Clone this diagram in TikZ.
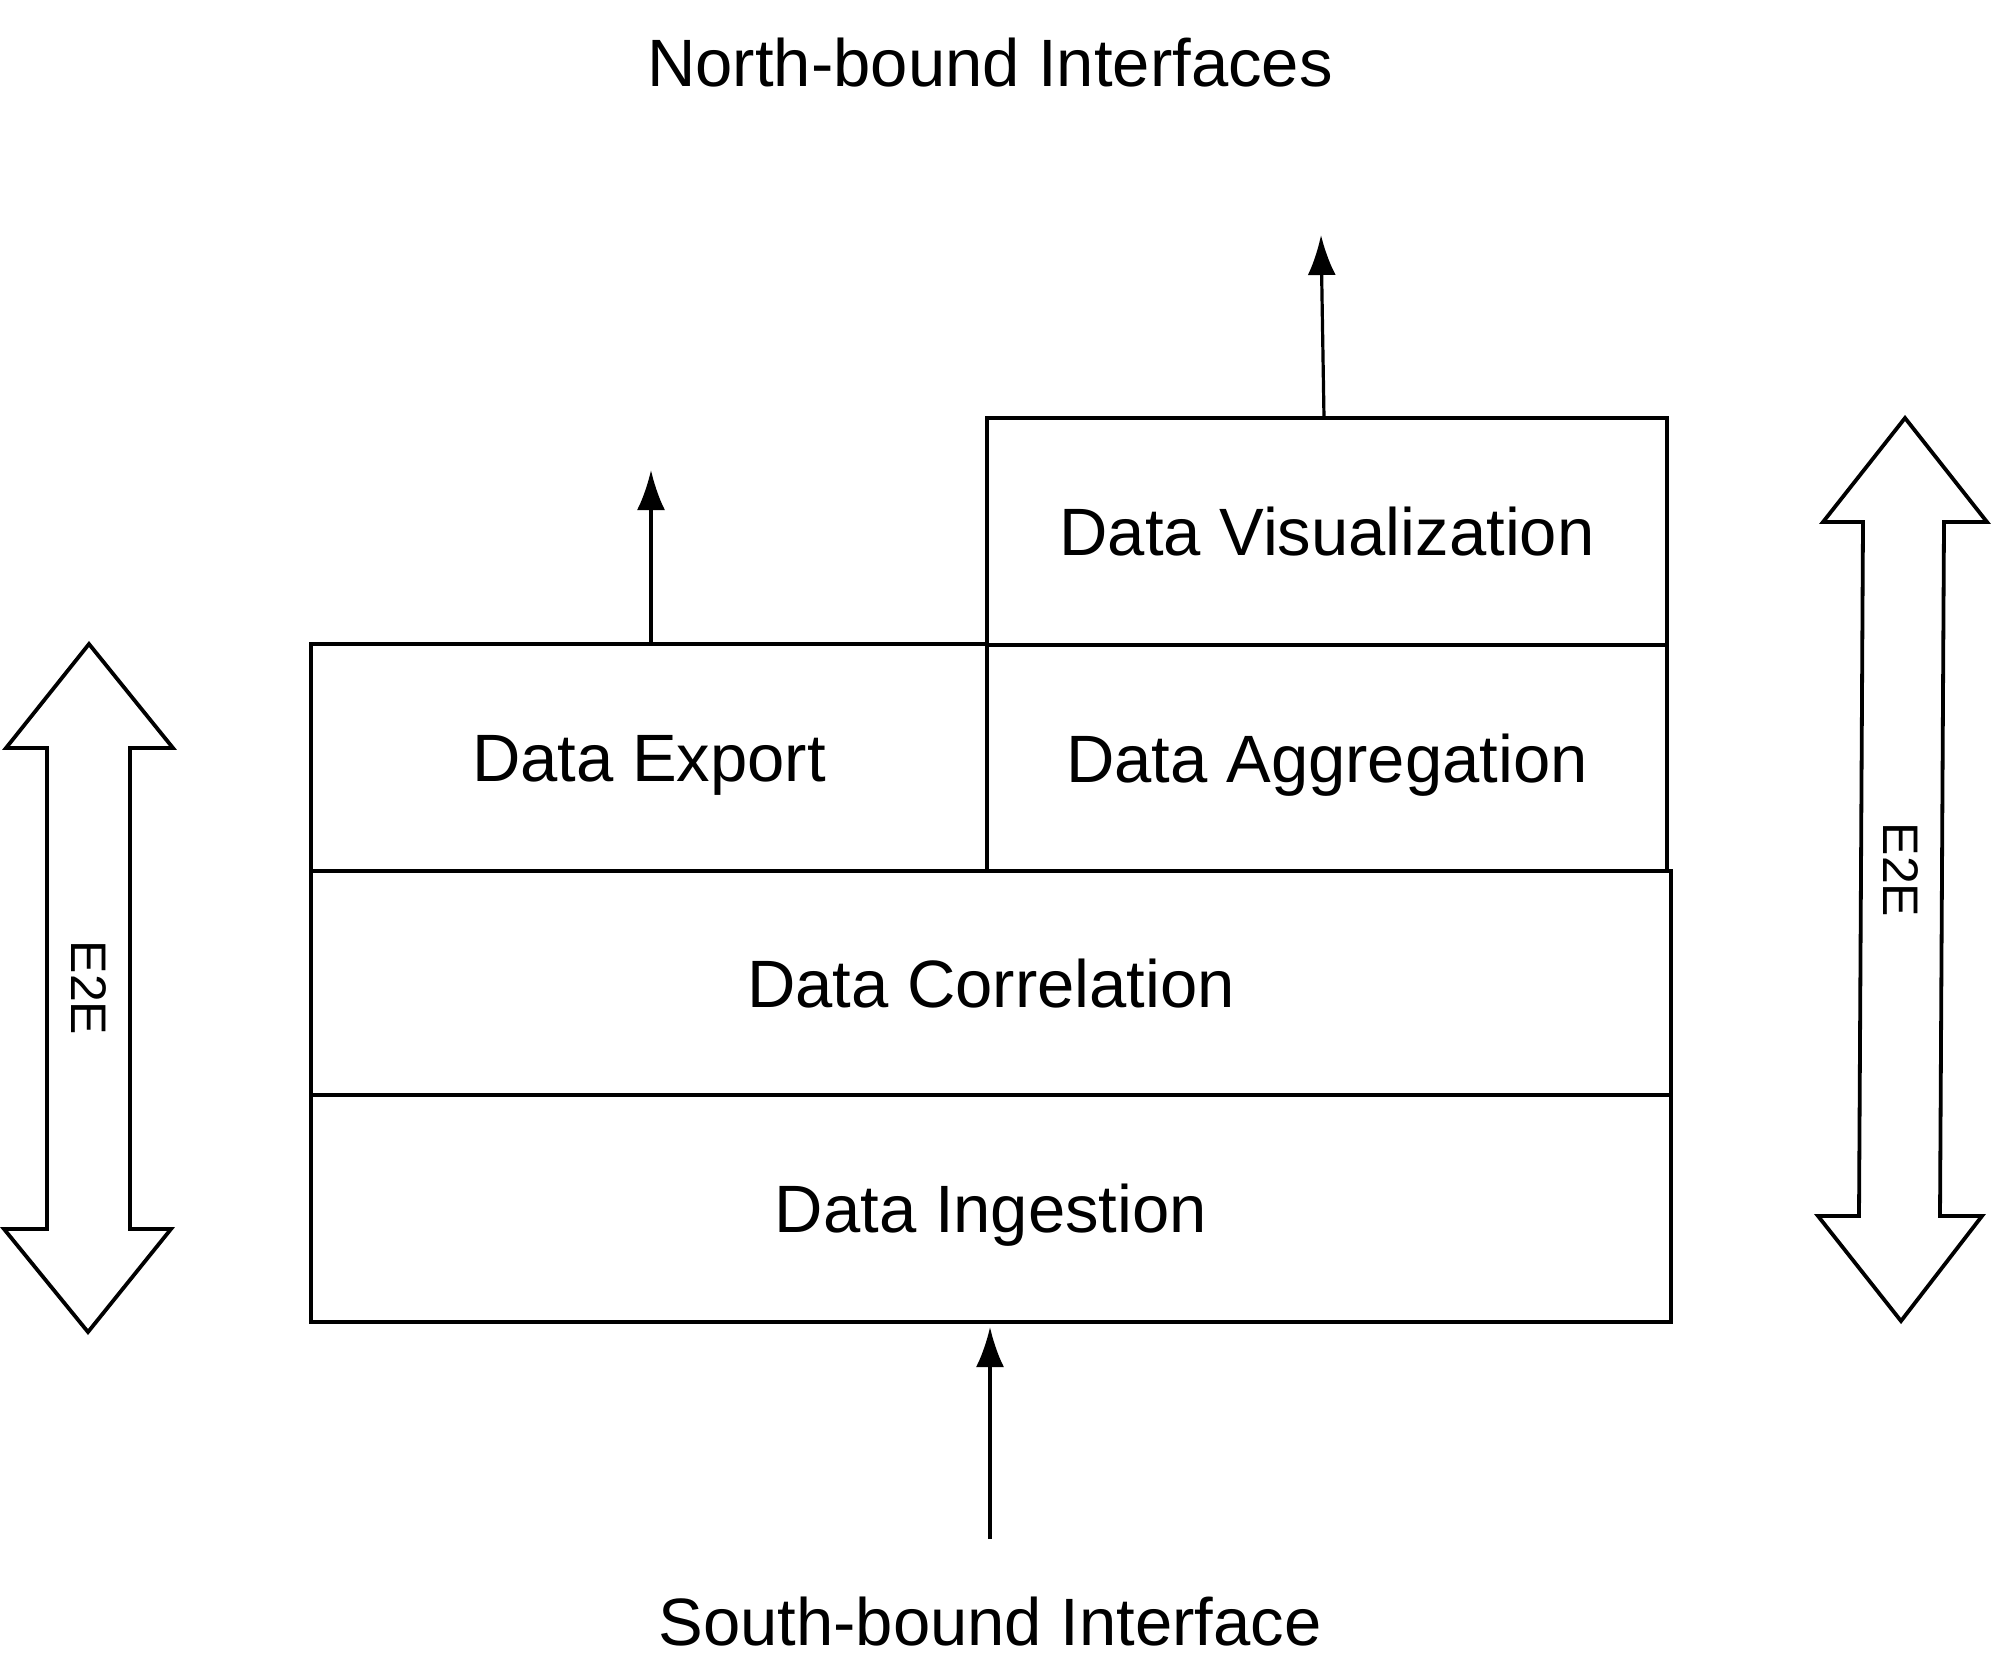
\documentclass[tikz,border=0pt]{standalone}
\usepackage{fontspec}
\setmainfont{Liberation Sans}
\usetikzlibrary{arrows.meta}
\tikzset{
  layer/.style={draw, line width=3.8pt, inner sep=0pt, outer sep=0pt, text height=48pt, text depth=0pt, font=\fontsize{67}{70}\selectfont},
  iface/.style={font=\fontsize{67}{70}\selectfont},
  flow/.style={line width=3.2pt, -{Latex[length=40pt,width=28pt]}},
  bigarrow/.style={draw, line width=3.8pt, line join=miter, fill=white},
  e2e/.style={font=\fontsize{50}{54}\selectfont, rotate=-90}
}
\begin{document}
\begin{tikzpicture}[x=1pt,y=-1pt]
\useasboundingbox (0,0) rectangle (1991,1679);
% layers
\node[layer, minimum width=676pt, minimum height=227pt] (exp) at (649,757.5) {Data Export};
\node[layer, minimum width=680pt, minimum height=227pt] (vis) at (1327,531.5) {Data Visualization};
\node[layer, minimum width=680pt, minimum height=226pt] (agg) at (1327,758) {Data Aggregation};
\node[layer, minimum width=1360pt, minimum height=224pt] (cor) at (991,983) {Data Correlation};
\node[layer, minimum width=1360pt, minimum height=227pt] (ing) at (991,1208.5) {Data Ingestion};
% interface labels
\node[iface] (nb) at (990,63) {North-bound Interfaces};
\node[iface] (sb) at (990,1622) {South-bound Interface};
% connectors
\coordinate (expTip) at (651,470);
\coordinate (visTip) at (1321,235);
\coordinate (visBase) at (1324,418);
\coordinate (sbBase) at (990,1539);
\coordinate (sbTip) at (990,1327);
\draw[flow] (exp.north -| expTip) -- (expTip);
\draw[flow] (visBase) -- (visTip);
\draw[flow] (sbBase) -- (sbTip);
% E2E double arrows
\draw[bigarrow] (89,644) -- (173,748) -- (130,748) -- (130,1229) -- (171,1229) -- (88,1332)
  -- (4,1229) -- (47,1229) -- (47,748) -- (6,748) -- cycle;
\node[e2e] (e2eL) at (89,988) {E2E};
\draw[bigarrow] (1905,418) -- (1987,522) -- (1944,522) -- (1940,1216) -- (1982,1216) -- (1901,1321)
  -- (1818,1216) -- (1859,1216) -- (1863,522) -- (1823,522) -- cycle;
\node[e2e] (e2eR) at (1901,870) {E2E};
\end{tikzpicture}
\end{document}
